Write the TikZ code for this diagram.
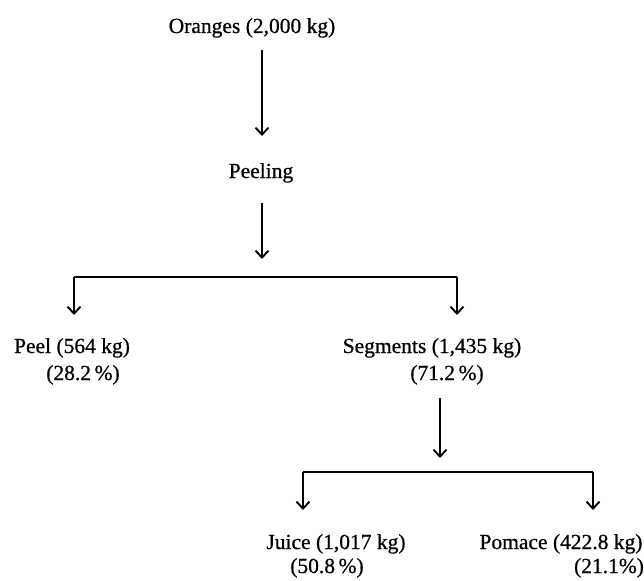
\documentclass[tikz,border=0pt]{standalone}
\usepackage{fontspec}
\setmainfont{Liberation Serif}
\newfontfamily\heavy[BoldFont=Liberation Serif,BoldFeatures={FakeBold=0.7}]{Liberation Serif}
\usetikzlibrary{arrows.meta}
\begin{document}
\begin{tikzpicture}[x=1pt,y=-1pt,
  lbl/.style={inner sep=0pt,anchor=base,font=\heavy\bfseries\fontsize{21.5}{24}\selectfont},
  flow/.style={line width=1.9pt,-{Straight Barb[length=7pt,width=13pt,line width=1.9pt]}},
  bar/.style={line width=1.9pt}]
\useasboundingbox (0,0) rectangle (644,580);
% texts (positioned at baselines)
\node[lbl] (oranges) at (252,33) {Oranges (2,000 kg)};
\node[lbl] (peeling) at (261,178) {Peeling};
\node[lbl] (peel) at (72,353) {Peel (564 kg)};
\node[lbl] (peelpc) at (83,380) {(28.2\,\%)};
\node[lbl] (segments) at (432,353) {Segments (1,435 kg)};
\node[lbl] (segpc) at (447,380) {(71.2\,\%)};
\node[lbl] (juice) at (336,549) {Juice (1,017 kg)};
\node[lbl] (juicepc) at (327,573) {(50.8\,\%)};
\node[lbl] (pomace) at (561,549) {Pomace (422.8 kg)};
\node[lbl] (pomacepc) at (609,573) {(21.1\%)};
% junction points
\coordinate (a1s) at (262,50);
\coordinate (a1e) at (262,136);
\coordinate (a2s) at (262,203);
\coordinate (a2e) at (262,259);
\coordinate (bl) at (74,277);
\coordinate (br) at (457,277);
\coordinate (blE) at (74,315);
\coordinate (brE) at (457,315);
\coordinate (a3s) at (440,398);
\coordinate (a3e) at (440,458);
\coordinate (cl) at (303,472);
\coordinate (cr) at (593,472);
\coordinate (clE) at (303,510);
\coordinate (crE) at (593,510);
% connectors
\draw[flow] (a1s) -- (a1e);
\draw[flow] (a2s) -- (a2e);
\draw[bar] (bl) -- (br);
\draw[flow] (bl) -- (blE);
\draw[flow] (br) -- (brE);
\draw[flow] (a3s) -- (a3e);
\draw[bar] (cl) -- (cr);
\draw[flow] (cl) -- (clE);
\draw[flow] (cr) -- (crE);
\end{tikzpicture}
\end{document}
